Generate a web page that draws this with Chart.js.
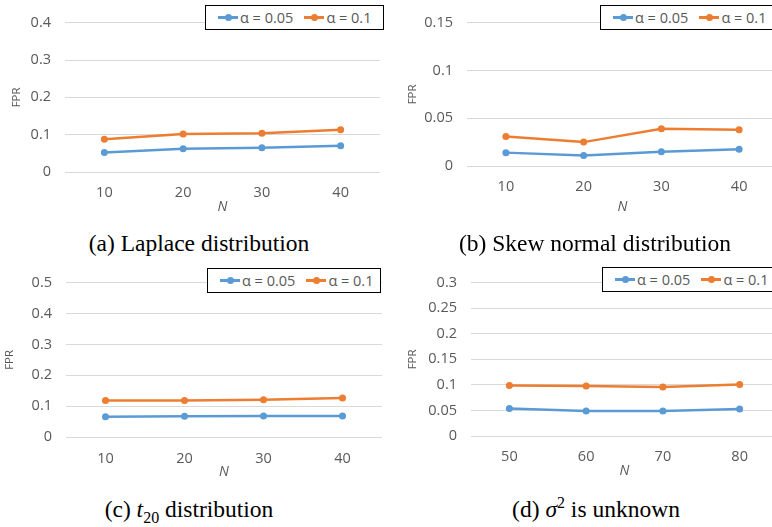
<!DOCTYPE html>
<html>
<head>
<meta charset="utf-8">
<script src="https://cdn.jsdelivr.net/npm/chart.js@4"></script>
<style>
body { margin: 0; width: 772px; height: 527px; overflow: hidden; background: #fff; position: relative; font-family: "Open Sans", sans-serif; }
canvas, .legend, .cap { position: absolute; }
.legend { border: 1px solid #000; background: #fff; height: 25px; box-sizing: border-box; display: flex; align-items: center; padding-left: 12px; font-size: 14.5px; color: #595959; white-space: nowrap; }
.item { display: flex; align-items: center; margin-right: 11px; }
.mk { display: inline-block; width: 20px; height: 2.5px; position: relative; margin-right: 2px; }
.mk i { position: absolute; left: 6.5px; top: -2.25px; width: 7px; height: 7px; border-radius: 50%; background: inherit; }
.cap { font-family: "Liberation Serif", serif; font-size: 23.5px; line-height: 28px; color: #000; transform: translateX(-50%); white-space: nowrap; }
.cap sub, .cap sup { font-size: 16px; line-height: 0; }
</style>
</head>
<body>
<canvas id="chartA" width="390" height="215" style="left:0;top:0"></canvas>
<canvas id="chartB" width="400" height="215" style="left:385px;top:0"></canvas>
<canvas id="chartC" width="390" height="220" style="left:0;top:260px"></canvas>
<canvas id="chartD" width="400" height="219" style="left:385px;top:260px"></canvas>

<div class="legend" id="legA" style="left:205px;top:5px;width:179px"></div>
<div class="legend" id="legB" style="left:600px;top:5px;width:185px"></div>
<div class="legend" id="legC" style="left:207px;top:268px;width:174px"></div>
<div class="legend" id="legD" style="left:602px;top:267px;width:185px"></div>

<div class="cap" style="left:199px;top:229px">(a) Laplace distribution</div>
<div class="cap" style="left:595px;top:229px">(b) Skew normal distribution</div>
<div class="cap" style="left:189px;top:495px">(c) <i>t</i><sub>20</sub> distribution</div>
<div class="cap" style="left:596px;top:495px">(d) <i>σ</i><sup>2</sup> is unknown</div>

<script>
const nSmall = ['10', '20', '30', '40'];
const nLarge = ['50', '60', '70', '80'];
const seriesLabels = ['α = 0.05', 'α = 0.1'];

const laplace05 = [0.052, 0.062, 0.065, 0.070];
const laplace10 = [0.088, 0.102, 0.104, 0.113];
const skew05 = [0.014, 0.011, 0.015, 0.0175];
const skew10 = [0.031, 0.025, 0.039, 0.038];
const t20_05 = [0.066, 0.067, 0.068, 0.068];
const t20_10 = [0.118, 0.118, 0.121, 0.126];
const unknown05 = [0.054, 0.049, 0.049, 0.053];
const unknown10 = [0.099, 0.098, 0.096, 0.101];

const blue = '#5B9BD5';
const orange = '#ED7D31';
const textGray = '#595959';

const makeDataset = (label, values, color) => ({
   label: label,
   data: values,
   borderColor: color,
   backgroundColor: color,
   borderWidth: 2.5,
   pointRadius: 3.5,
   pointBorderWidth: 0,
   pointBackgroundColor: color,
   tension: 0
})

const createChart = (id, labels, low, high, yMax, yStep, box) => {
   const ctx = document.getElementById(id).getContext('2d');
   return new Chart(ctx, {
      type: 'line',
      data: {
         labels: labels,
         datasets: [makeDataset(seriesLabels[0], low, blue), makeDataset(seriesLabels[1], high, orange)]
      },
      options: {
         responsive: false,
         animation: false,
         devicePixelRatio: 1,
         layout: { padding: { top: box.top, right: box.right, left: 0, bottom: 0 } },
         plugins: { legend: { display: false }, tooltip: { enabled: false } },
         scales: {
            x: {
               offset: true,
               grid: { display: false, drawTicks: false },
               border: { display: false },
               ticks: { padding: box.tickPad - 0.6, color: textGray, font: { family: 'Open Sans', size: 14.5 } },
               title: { display: true, text: 'N', color: textGray, padding: 0, font: { family: 'Open Sans', size: 14, style: 'italic' } },
               afterFit: (scale) => { scale.height = box.xHeight }
            },
            y: {
               min: 0,
               max: yMax,
               grid: { color: '#D9D9D9', lineWidth: 1, drawTicks: false },
               border: { display: false },
               ticks: {
                  stepSize: yStep,
                  padding: 14,
                  color: textGray,
                  font: { family: 'Open Sans', size: 14.5 },
                  callback: (v) => String(+v.toFixed(2))
               },
               title: { display: true, text: 'FPR', color: textGray, padding: { top: box.titlePad - 1, bottom: 0 }, font: { family: 'Open Sans', size: 11.5 } },
               afterFit: (scale) => { scale.width = box.yWidth }
            }
         }
      }
   });
}

const fillLegend = (id) => {
   const leg = document.getElementById(id);
   [blue, orange].forEach((color, i) => {
      const item = document.createElement('span');
      item.className = 'item';
      const mk = document.createElement('span');
      mk.className = 'mk';
      mk.style.background = color;
      mk.appendChild(document.createElement('i'));
      item.appendChild(mk);
      item.appendChild(document.createTextNode(seriesLabels[i]));
      leg.appendChild(item);
   })
}

createChart('chartA', nSmall, laplace05, laplace10, 0.4, 0.1, { top: 12, right: 10, yWidth: 65, xHeight: 43, tickPad: 12.6, titlePad: 11 });
createChart('chartB', nSmall, skew05, skew10, 0.15, 0.05, { top: 12, right: 7, yWidth: 82, xHeight: 49, tickPad: 12.6, titlePad: 22 });
createChart('chartC', nSmall, t20_05, t20_10, 0.5, 0.1, { top: 17, right: 8, yWidth: 66, xHeight: 43, tickPad: 13.5, titlePad: 3.5 });
createChart('chartD', nLarge, unknown05, unknown10, 0.3, 0.05, { top: 17, right: 7, yWidth: 86, xHeight: 43, tickPad: 13, titlePad: 22 });

fillLegend('legA');
fillLegend('legB');
fillLegend('legC');
fillLegend('legD');
</script>
</body>
</html>
